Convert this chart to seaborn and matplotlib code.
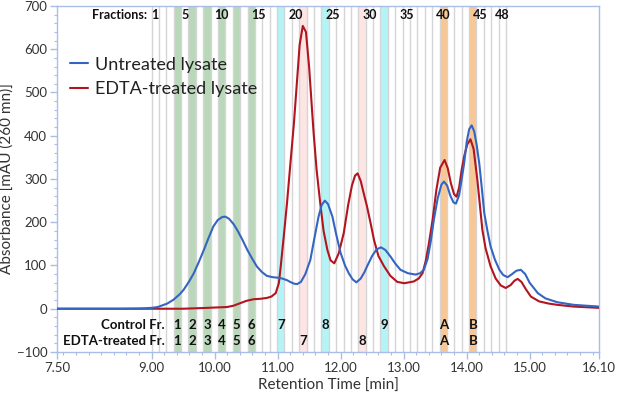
import numpy as np
import pandas as pd
import matplotlib
matplotlib.use('Agg')
import matplotlib.pyplot as plt
import seaborn as sns
from matplotlib.ticker import MultipleLocator, FixedLocator, FixedFormatter

# ---------------- data ----------------
time_untreated = [7.50, 8.50, 8.80, 9.00, 9.10, 9.25, 9.35, 9.45, 9.51, 9.60, 9.67, 9.75, 9.83, 9.90,
                  9.98, 10.05, 10.12, 10.17, 10.23, 10.30, 10.36, 10.44, 10.52, 10.60, 10.67, 10.75,
                  10.83, 10.92, 10.99, 11.07, 11.15, 11.20, 11.26, 11.31, 11.37, 11.44, 11.52, 11.58,
                  11.65, 11.70, 11.75, 11.80, 11.87, 11.93, 12.00, 12.07, 12.13, 12.19, 12.25, 12.32,
                  12.38, 12.42, 12.50, 12.57, 12.64, 12.71, 12.79, 12.87, 12.95, 13.07, 13.19, 13.26,
                  13.32, 13.38, 13.43, 13.48, 13.54, 13.60, 13.64, 13.69, 13.74, 13.79, 13.83, 13.88,
                  13.92, 13.96, 14.00, 14.04, 14.08, 14.12, 14.16, 14.20, 14.24, 14.28, 14.33, 14.38,
                  14.45, 14.52, 14.58, 14.65, 14.72, 14.79, 14.86, 14.93, 15.00, 15.13, 15.25, 15.44,
                  15.70, 16.10]
abs_untreated = [0, 0, 0.5, 2, 4, 12, 21, 34, 44, 64, 82, 108, 136, 162,
                 190, 205, 212, 213, 208, 196, 182, 160, 136, 115, 98, 85,
                 76, 73, 72, 70, 66, 62, 58, 57, 62, 80, 113, 160,
                 213, 240, 250, 242, 213, 172, 129, 100, 82, 68, 61, 70,
                 85, 98, 122, 137, 142, 136, 121, 104, 90, 82, 79, 82,
                 90, 115, 155, 206, 255, 287, 294, 285, 262, 246, 243, 262,
                 298, 336, 385, 415, 424, 410, 378, 336, 280, 221, 180, 144,
                 113, 90, 78, 73, 80, 88, 90, 80, 60, 36, 24, 15,
                 9, 5]

time_edta = [7.50, 9.50, 9.88, 10.20, 10.30, 10.41, 10.50, 10.62, 10.73, 10.83, 10.90, 10.97, 11.02,
             11.05, 11.10, 11.15, 11.20, 11.26, 11.31, 11.35, 11.40, 11.45, 11.50, 11.57, 11.62,
             11.68, 11.73, 11.79, 11.84, 11.90, 11.97, 12.05, 12.12, 12.18, 12.23, 12.27, 12.32,
             12.37, 12.42, 12.48, 12.53, 12.60, 12.69, 12.79, 12.90, 13.01, 13.16, 13.24, 13.30,
             13.35, 13.40, 13.46, 13.52, 13.58, 13.65, 13.70, 13.75, 13.80, 13.84, 13.88, 13.92,
             13.96, 14.01, 14.06, 14.11, 14.17, 14.21, 14.25, 14.30, 14.38, 14.46, 14.54, 14.62,
             14.70, 14.76, 14.81, 14.87, 14.94, 15.02, 15.15, 15.30, 15.44, 15.70, 16.10]
abs_edta = [0, 0, 2, 4, 7, 13, 18, 22, 23, 25, 28, 36, 59,
            98, 170, 245, 330, 430, 530, 610, 654, 640, 560, 410, 320,
            240, 180, 136, 112, 105, 128, 175, 240, 285, 308, 313, 295,
            265, 236, 195, 159, 122, 98, 76, 62, 59, 63, 70, 82,
            110, 150, 206, 275, 326, 344, 325, 290, 265, 259, 280, 320,
            352, 380, 392, 370, 298, 240, 182, 140, 98, 70, 54, 48,
            55, 65, 69, 62, 45, 28, 17, 12, 9, 5, 2]

series_names = ['Untreated lysate', 'EDTA-treated lysate']

# fractions
n_fractions = 48
frac_start = 9.0
frac_end = 14.625
top_label_fracs = [1, 5, 10, 15, 20, 25, 30, 35, 40, 45, 48]

green_fracs = [4, 6, 8, 10, 12, 14]
cyan_fracs = [18, 24, 32]
pink_fracs = [21, 29]
orange_fracs = [40, 44]

control_fracs = [4, 6, 8, 10, 12, 14, 18, 24, 32, 40, 44]
control_labels = ['1', '2', '3', '4', '5', '6', '7', '8', '9', 'A', 'B']
edta_fracs = [4, 6, 8, 10, 12, 14, 21, 29, 40, 44]
edta_labels = ['1', '2', '3', '4', '5', '6', '7', '8', 'A', 'B']

xtick_vals = [7.5, 9, 10, 11, 12, 13, 14, 15, 16.1]
xtick_labels = ['7.50', '9.00', '10.00', '11.00', '12.00', '13.00', '14.00', '15.00', '16.10']

# ---------------- plot ----------------
sns.set_theme(style='white')
plt.rcParams['font.family'] = ['Lato', 'DejaVu Sans']

fig, ax = plt.subplots(figsize=(6.17, 3.95), dpi=100)
fig.subplots_adjust(left=0.0924, right=0.9708, bottom=0.1089, top=0.9848)

w = (frac_end - frac_start) / n_fractions


def fspan(f):
    return frac_start + (f - 1) * w, frac_start + f * w


band_sets = [(green_fracs, '#b9d8b9'), (cyan_fracs, '#b5f4f6'),
             (pink_fracs, '#fde5e4'), (orange_fracs, '#f9c793')]
for fr_list, col in band_sets:
    for f in fr_list:
        a, b = fspan(f)
        ax.axvspan(a, b, color=col, lw=0, zorder=0.5)

for i in range(n_fractions + 1):
    ax.axvline(frac_start + i * w, color='#d5d5d5', lw=1.0, zorder=0.8)

df = pd.concat([
    pd.DataFrame({'time': time_untreated, 'abs': abs_untreated, 'sample': series_names[0]}),
    pd.DataFrame({'time': time_edta, 'abs': abs_edta, 'sample': series_names[1]}),
])
palette = {series_names[0]: '#3565c2', series_names[1]: '#b2151f'}
sns.lineplot(data=df, x='time', y='abs', hue='sample', hue_order=series_names[::-1],
             palette=palette, lw=1.5, ax=ax, zorder=3, legend=True)

# legend
handles, labels = ax.get_legend_handles_labels()
order = [labels.index(n) for n in series_names]
leg = ax.legend([handles[i] for i in order], [labels[i] for i in order],
                loc='upper left', bbox_to_anchor=(0.0, 0.89), frameon=False,
                fontsize=13, handlelength=1.0, handletextpad=0.4, labelspacing=0.45,
                borderaxespad=0.3)
for t in leg.get_texts():
    t.set_color('#222222')

# top labels
ax.text(frac_start - 0.07, 679, 'Fractions:', ha='right', va='center', fontsize=9,
        fontweight='bold', color='#111111')
for f in top_label_fracs:
    a, b = fspan(f)
    ax.text((a + b) / 2, 679, str(f), ha='center', va='center', fontsize=9,
            fontweight='bold', color='#111111')

# bottom labels
ax.text(9.21, -37, 'Control Fr.', ha='right', va='center', fontsize=9.5,
        fontweight='bold', color='#111111')
ax.text(9.21, -75, 'EDTA-treated Fr.', ha='right', va='center', fontsize=9.5,
        fontweight='bold', color='#111111')
for f, lab in zip(control_fracs, control_labels):
    a, b = fspan(f)
    ax.text((a + b) / 2, -37, lab, ha='center', va='center', fontsize=9.5,
            fontweight='bold', color='#111111')
for f, lab in zip(edta_fracs, edta_labels):
    a, b = fspan(f)
    ax.text((a + b) / 2, -75, lab, ha='center', va='center', fontsize=9.5,
            fontweight='bold', color='#111111')

# axes
ax.set_xlim(7.5, 16.1)
ax.set_ylim(-100, 700)
ax.xaxis.set_major_locator(FixedLocator(xtick_vals))
ax.xaxis.set_major_formatter(FixedFormatter(xtick_labels))
ax.xaxis.set_minor_locator(MultipleLocator(0.2))
ax.yaxis.set_major_locator(MultipleLocator(100))
ax.yaxis.set_minor_locator(MultipleLocator(20))

spine_col = '#a9bde6'
for s in ax.spines.values():
    s.set_color(spine_col)
    s.set_linewidth(1.0)
ax.tick_params(axis='both', which='major', direction='out', length=5, width=1,
               color=spine_col, labelsize=9.5, labelcolor='#333333', pad=2)
ax.tick_params(axis='both', which='minor', direction='out', length=2.5, width=0.8,
               color=spine_col)
ax.tick_params(axis='x', which='both', bottom=True)
ax.tick_params(axis='y', which='both', left=True)

ax.set_xlabel('Retention Time [min]', fontsize=11, color='#333333', labelpad=4)
ax.set_ylabel('Absorbance [mAU (260 mn)]', fontsize=11, color='#333333', labelpad=2)

fig.savefig('out.png', dpi=100)
